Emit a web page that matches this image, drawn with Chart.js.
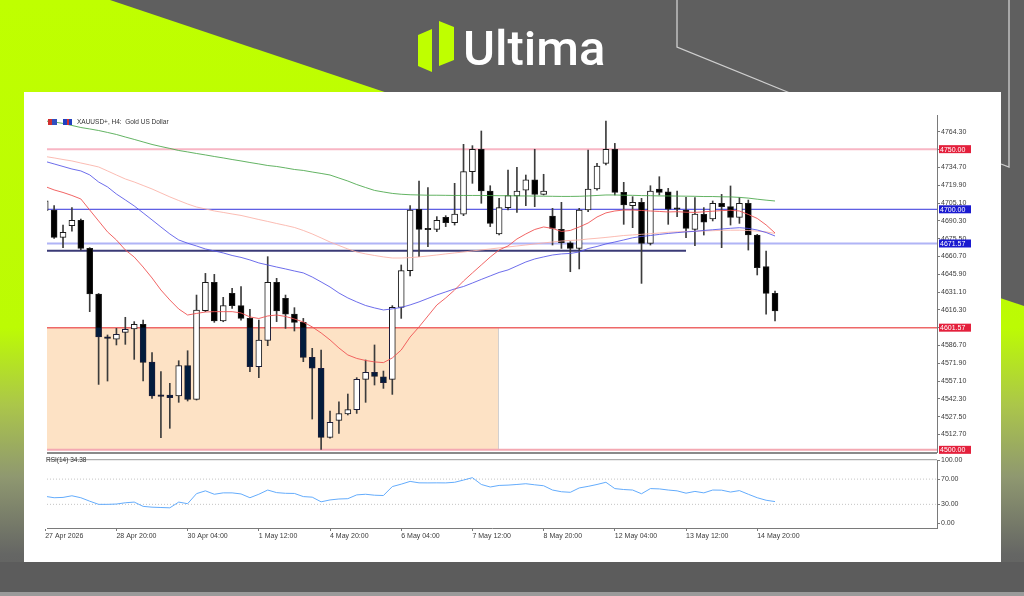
<!DOCTYPE html>
<html>
<head>
<meta charset="utf-8">
<script src="https://cdn.jsdelivr.net/npm/chart.js@4.4.1/dist/chart.umd.min.js"></script>
<style>
html, body { margin: 0; padding: 0; width: 1024px; height: 596px; overflow: hidden; background: #5f5f5f; font-family: "Liberation Sans", Arial, sans-serif; }
#bg { position: absolute; left: 0; top: 0; }
#panel { position: absolute; left: 24px; top: 92px; width: 977px; height: 470px; background: #fff; }
#priceWrap { position: absolute; left: 24px; top: 92px; width: 977px; height: 370px; }
#rsiWrap { position: absolute; left: 24px; top: 455px; width: 977px; height: 95px; }
.txt { position: absolute; font-size: 6.5px; color: #333; white-space: pre; line-height: 8px; }
.ico { position: absolute; top: 119px; width: 9px; height: 6px; }
</style>
</head>
<body>
<svg id="bg" width="1024" height="596">
  <defs>
    <linearGradient id="lime" x1="0" y1="0" x2="0" y2="596" gradientUnits="userSpaceOnUse">
      <stop offset="0" stop-color="#bfff00"/>
      <stop offset="0.55" stop-color="#bcfb04"/>
      <stop offset="0.68" stop-color="#abc64a"/>
      <stop offset="0.8" stop-color="#8f9870"/>
      <stop offset="0.93" stop-color="#656664"/>
      <stop offset="1" stop-color="#5f5f5f"/>
    </linearGradient>
  </defs>
  <rect width="1024" height="596" fill="#5f5f5f"/>
  <polygon points="0,0 110,0 1024,306 1024,596 0,596" fill="url(#lime)"/>
  <rect x="0" y="562" width="1024" height="34" fill="#5c5c5c"/>
  <rect x="0" y="592" width="1024" height="4" fill="#9a9a9a"/>
  <polyline points="677,0 677,47 790,93" fill="none" stroke="#cfcfcf" stroke-width="1.3"/>
  <polyline points="1009,0 1009,167 1001,164" fill="none" stroke="#cfcfcf" stroke-width="1.3"/>
  <polygon points="418,35 432,29 432,72 418,66" fill="#bfff00"/>
  <polygon points="439,21 454,27 454,60 439,66" fill="#bfff00"/>
  <text x="463" y="65" font-family="Roboto" font-weight="500" font-size="49" fill="#ffffff">Ultima</text>
</svg>
<div id="panel"></div>
<div id="priceWrap"><canvas id="priceChart"></canvas></div>
<div id="rsiWrap"><canvas id="rsiChart"></canvas></div>
<div class="ico" style="left:48px;background:linear-gradient(90deg,#d03030 0 45%,#3050c0 45% 100%)"></div>
<div class="ico" style="left:63px;background:linear-gradient(90deg,#2040c0 0 40%,#d03030 40% 70%,#2040c0 70%)"></div>
<div class="txt" style="left:77px;top:118px">XAUUSD+, H4:  Gold US Dollar</div>
<div class="txt" style="left:46px;top:456px">RSI(14) 34.38</div>
<script>
// Velas H4 XAUUSD+
const opens = [4699,4699.4,4676.7,4686.4,4690.8,4667.5,4629.6,4593.6,4592.1,4597.7,
  4600.5,4604.3,4572.9,4544.8,4545.6,4544.8,4570.0,4542.0,4615.7,4639.3,
  4607.1,4630.1,4619.9,4609.3,4569.1,4591.0,4639.3,4626.0,4612.9,4606.0,
  4576.9,4567.8,4510.4,4524.5,4529.8,4533.4,4558.6,4564.4,4560.8,4558.6,
  4618.5,4649.0,4700.0,4683.3,4683.3,4693.3,4688.9,4696.0,4731.3,4749.9,
  4715.2,4679.5,4701.4,4711.1,4716.0,4724.4,4712.4,4694.4,4683.3,4672.2,
  4667.5,4699.4,4716.9,4738.2,4749.9,4714.1,4703.0,4705.8,4671.7,4716.9,
  4714.6,4700.2,4699.4,4683.3,4695.8,4691.9,4705.0,4702.2,4693.3,4705.0,
  4678.6,4652.3,4630.1];
const highs = [4709,4703.0,4686.9,4701.4,4691.9,4668.1,4630.0,4595.5,4601.0,4610.2,
  4606.6,4607.9,4580.8,4565.0,4555.3,4574.1,4582.4,4628.7,4646.7,4645.9,
  4626.8,4634.3,4635.7,4616.8,4607.9,4660.6,4642.6,4628.7,4618.2,4609.3,
  4584.4,4583.0,4532.3,4540.0,4546.4,4560.0,4574.7,4587.2,4565.5,4619.9,
  4653.7,4703.0,4723.5,4718.0,4693.9,4694.7,4721.6,4754.0,4752.9,4765.1,
  4719.6,4709.1,4732.7,4734.9,4728.5,4749.9,4729.1,4700.8,4705.8,4673.1,
  4700.8,4749.3,4738.2,4773.4,4754.8,4722.4,4710.5,4709.1,4719.6,4727.1,
  4717.4,4715.2,4709.9,4709.7,4701.4,4706.9,4712.4,4719.4,4709.7,4707.7,
  4679.2,4665.3,4632.1];
const lows = [4696,4675.7,4668.1,4681.9,4666.1,4614.9,4554.4,4557.2,4587.2,4587.7,
  4575.2,4557.2,4542.8,4510.1,4517.9,4539.5,4540.6,4541.4,4614.9,4606.0,
  4606.5,4617.6,4607.9,4565.0,4560.0,4586.6,4606.6,4601.0,4598.8,4573.3,
  4525.6,4500.4,4509.6,4513.7,4529.0,4530.3,4539.5,4553.9,4551.1,4546.1,
  4609.3,4644.5,4660.6,4668.9,4681.4,4685.6,4686.9,4694.7,4721.6,4705.0,
  4685.6,4678.6,4699.4,4697.5,4703.0,4702.2,4711.9,4670.3,4667.5,4648.1,
  4650.4,4698.0,4716.0,4736.8,4711.9,4687.5,4684.7,4638.4,4670.3,4711.9,
  4687.5,4693.9,4676.4,4669.8,4678.6,4690.3,4668.1,4686.9,4688.3,4666.1,
  4645.4,4612.9,4607.1];
const closes = [4707,4676.7,4680.8,4690.8,4667.5,4629.6,4593.8,4592.7,4596.0,4600.2,
  4604.3,4572.7,4544.8,4544.5,4543.4,4570.0,4542.0,4616.3,4639.3,4607.1,
  4619.9,4619.9,4609.3,4569.1,4591.3,4639.3,4615.4,4612.9,4606.0,4576.9,
  4567.8,4510.4,4522.9,4530.1,4533.4,4558.6,4564.4,4561.1,4555.8,4618.5,
  4649.0,4699.4,4683.3,4683.0,4690.8,4688.9,4696.1,4731.3,4749.9,4715.2,
  4688.3,4701.4,4711.3,4715.2,4724.4,4712.4,4715.2,4684.2,4672.2,4667.5,
  4699.4,4716.9,4736.0,4749.9,4714.1,4703.6,4705.8,4671.7,4715.2,4714.1,
  4700.0,4700.0,4684.2,4696.1,4689.2,4705.0,4702.2,4693.3,4705.0,4678.6,
  4651.5,4630.1,4615.4];

// Médias móveis
const maRed = [4718.9,4716.1,4714.0,4711.5,4708.6,4699.4,4690.3,4681.2,4674.5,4666.2,
  4660.3,4652.0,4642.9,4632.9,4624.6,4617.1,4612.1,4613.4,4614.6,4614.9,
  4614.9,4614.9,4613.8,4610.5,4609.2,4611.3,4612.1,4610.9,4608.8,4606.3,
  4602.2,4597.2,4591.4,4584.7,4578.9,4576.0,4574.3,4573.1,4572.5,4576.4,
  4583.0,4593.8,4602.2,4611.3,4620.4,4626.3,4632.9,4640.4,4647.1,4653.7,
  4660.3,4666.2,4669.5,4675.3,4679.5,4683.2,4685.3,4684.1,4681.6,4682.4,
  4685.3,4688.6,4693.6,4697.0,4698.6,4699.4,4699.4,4699.0,4698.6,4698.2,
  4697.8,4698.0,4697.6,4697.4,4697.9,4698.4,4698.9,4699.2,4698.6,4695.7,
  4692.4,4687.0,4680.3];
const maBlue = [4739.8,4737.7,4735.6,4733.5,4731.9,4728.6,4722.7,4718.6,4712.7,4707.8,
  4702.8,4697.0,4691.2,4685.3,4679.5,4674.5,4671.8,4669.5,4667.0,4665.4,
  4663.7,4661.6,4660.0,4657.9,4655.4,4653.7,4652.0,4650.4,4648.7,4647.1,
  4643.7,4639.6,4635.4,4630.4,4626.3,4623.0,4620.0,4618.0,4616.3,4617.2,
  4618.4,4620.5,4623.0,4625.9,4628.8,4631.3,4633.8,4635.8,4638.7,4641.7,
  4644.6,4647.5,4649.6,4652.9,4656.2,4658.7,4660.4,4662.0,4662.9,4663.3,
  4664.5,4667.4,4669.1,4671.2,4672.8,4674.5,4676.3,4677.4,4678.2,4679.1,
  4679.9,4680.6,4681.2,4681.7,4682.4,4683.0,4683.6,4684.2,4684.7,4684.1,
  4682.8,4680.7,4677.8];
const maPink = [4743.9,4742.7,4741.4,4740.2,4738.5,4736.9,4735.2,4731.9,4728.5,4725.2,
  4722.7,4719.8,4716.9,4713.6,4710.3,4707.3,4704.4,4701.9,4700.3,4698.6,
  4697.4,4696.1,4694.9,4693.2,4691.5,4689.9,4688.2,4686.6,4684.9,4682.4,
  4679.5,4676.2,4672.8,4669.9,4667.0,4664.5,4662.9,4661.6,4660.4,4659.5,
  4659.5,4659.8,4660.4,4661.2,4662.0,4662.9,4663.7,4664.5,4665.4,4666.2,
  4667.0,4667.9,4668.7,4669.5,4670.3,4671.2,4672.0,4672.8,4673.6,4674.1,
  4674.5,4675.3,4675.9,4676.6,4677.4,4678.2,4678.7,4679.2,4679.7,4680.3,
  4680.9,4681.2,4681.5,4681.7,4682.0,4682.2,4682.5,4682.6,4682.6,4682.4,
  4681.8,4681.2,4679.9];
const maGreen = [4773.4,4772.6,4771.4,4769.7,4768.0,4766.8,4765.5,4763.9,4762.2,4760.1,
  4758.1,4756.0,4753.9,4752.2,4750.6,4748.9,4747.7,4746.4,4745.2,4743.9,
  4742.7,4741.4,4740.2,4738.9,4737.7,4736.4,4735.6,4734.4,4733.1,4732.3,
  4731.0,4729.8,4728.5,4726.0,4723.5,4720.6,4718.1,4715.7,4714.4,4713.2,
  4712.5,4712.1,4711.9,4711.7,4711.7,4711.6,4711.5,4711.5,4711.5,4711.5,
  4711.4,4711.3,4711.3,4711.1,4711.1,4711.0,4710.9,4710.8,4710.7,4710.7,
  4710.8,4711.1,4711.5,4711.9,4711.9,4711.7,4711.6,4711.4,4711.3,4711.1,
  4711.1,4711.0,4710.9,4710.8,4710.6,4710.6,4710.4,4710.3,4709.9,4709.3,
  4708.4,4707.6,4706.9];

// RSI(14)
const rsiValues = [42.7,40.5,41.0,43.6,40.5,35.0,30.0,30.0,30.5,32.5,
  33.6,26.8,25.5,25.0,24.5,33.6,31.0,47.0,51.4,46.0,
  48.2,48.2,46.5,40.5,46.0,52.7,48.6,47.5,47.3,42.3,
  41.4,34.0,37.0,38.5,39.0,45.0,46.0,44.5,44.0,58.2,
  62.0,66.4,64.1,64.0,64.1,64.0,65.0,68.5,72.3,61.5,
  57.5,60.0,60.5,61.5,62.7,61.0,59.5,52.7,50.0,49.1,
  56.0,58.5,61.5,65.0,55.0,53.5,52.7,46.8,55.0,54.5,
  52.7,51.4,47.7,50.5,48.2,52.7,52.5,49.5,51.8,46.0,
  40.5,36.5,34.38];
const rsiLevels = [70, 30];

// Eixos
const timeLabels = ['27 Apr 2026', '28 Apr 20:00', '30 Apr 04:00', '1 May 12:00', '4 May 20:00',
  '6 May 04:00', '7 May 12:00', '8 May 20:00', '12 May 04:00', '13 May 12:00', '14 May 20:00'];
const timeTickBars = [0, 8, 16, 24, 32, 40, 48, 56, 64, 72, 80];
const priceTicks = [4764.30, 4749.50, 4734.70, 4719.90, 4705.10, 4690.30, 4675.50, 4660.70, 4645.90,
  4631.10, 4616.30, 4601.50, 4586.70, 4571.90, 4557.10, 4542.30, 4527.50, 4512.70];
const rsiTicks = [0, 30, 70, 100];

// Níveis e zona
const levels = [4750.00, 4700.00, 4671.57, 4601.57, 4500.00];
const trendLevel = 4665.5, trendEndBar = 72;
const zoneTop = 4601.57, zoneBottom = 4500.00, zoneEndBar = 50.9;

const levelStyle = [
  { line: 'rgb(248,182,196)', width: 2, box: '#e4203c' },
  { line: 'rgb(52,52,220)', width: 1, box: '#1a1ad0' },
  { line: 'rgb(176,180,246)', width: 2, box: '#1a1ad0' },
  { line: 'rgb(238,104,104)', width: 1.5, box: '#e4203c' },
  { line: 'rgb(244,168,178)', width: 2, box: '#e4203c' }
];

const xMin = 0.2, xMax = 100.2;
const bars = opens.map((_, i) => i);
Chart.defaults.font.family = 'Liberation Sans';
Chart.defaults.animation = false;

const fixWidth = s => { s.width = 64; };
const flat = (v, a, b) => [{ x: a, y: v }, { x: b, y: v }];
const maSet = (vals, color, order) => ({
    type: 'line', data: bars.map(i => ({ x: i, y: vals[i] })),
    borderColor: color, borderWidth: 1, pointRadius: 0, fill: false, order: order
});

const zonePlugin = {
    id: 'zone',
    beforeDatasetsDraw(chart) {
        const { ctx, chartArea, scales: { x, y } } = chart;
        const r = x.getPixelForValue(zoneEndBar);
        const t = y.getPixelForValue(zoneTop), b = y.getPixelForValue(zoneBottom);
        ctx.save();
        ctx.fillStyle = '#fde2c5';
        ctx.fillRect(chartArea.left, t, r - chartArea.left, b - t);
        ctx.restore();
    },
    afterDatasetsDraw(chart) {
        // barras pretas ficam azul-marinho dentro da zona
        const { ctx, chartArea, scales: { x, y } } = chart;
        const r = x.getPixelForValue(zoneEndBar);
        const t = y.getPixelForValue(zoneTop), b = y.getPixelForValue(zoneBottom);
        ctx.save();
        ctx.globalCompositeOperation = 'lighten';
        ctx.fillStyle = '#021c3c';
        ctx.fillRect(chartArea.left, t, r - chartArea.left, b - t);
        ctx.restore();
    },
    afterDraw(chart) {
        const { ctx, chartArea, scales: { y } } = chart;
        ctx.save();
        ctx.fillStyle = '#8a8a8a';
        ctx.fillRect(chartArea.left, chartArea.bottom, chartArea.right - chartArea.left, 2);
        ctx.font = '7px "Liberation Sans"';
        ctx.textBaseline = 'middle';
        levels.forEach((lv, k) => {
            const py = y.getPixelForValue(lv);
            ctx.fillStyle = levelStyle[k].box;
            ctx.fillRect(chartArea.right + 2, py - 4, 32, 8);
            ctx.fillStyle = '#fff';
            ctx.fillText(lv.toFixed(2), chartArea.right + 3, py + 0.5);
        });
        ctx.restore();
    }
};

new Chart(document.getElementById('priceChart'), {
    type: 'bar',
    data: {
        datasets: [
            maSet(maRed, 'rgba(240,84,84,0.9)', 1),
            maSet(maBlue, 'rgba(84,84,232,0.85)', 2),
            maSet(maPink, 'rgba(250,176,166,0.85)', 3),
            maSet(maGreen, 'rgba(72,166,72,0.85)', 4),
            {
                type: 'bar', data: bars.map(i => ({ x: i, y: [opens[i], closes[i]] })),
                backgroundColor: c => closes[c.dataIndex] >= opens[c.dataIndex] ? '#ffffff' : '#000000',
                borderColor: '#1a1a1a', borderWidth: 1, borderSkipped: false,
                barThickness: 6, minBarLength: 1.5, grouped: false, order: 10
            },
            {
                type: 'bar', data: bars.map(i => ({ x: i, y: [lows[i], highs[i]] })),
                backgroundColor: '#3c3c3c', barThickness: 1, grouped: false, order: 20
            },
            ...levels.map((lv, k) => ({
                type: 'line', data: flat(lv, xMin, xMax), borderColor: levelStyle[k].line,
                borderWidth: levelStyle[k].width, pointRadius: 0, fill: false, order: 30
            })),
            {
                type: 'line', data: flat(trendLevel, xMin, trendEndBar), borderColor: 'rgb(58,58,118)',
                borderWidth: 2, pointRadius: 0, fill: false, order: 31
            }
        ]
    },
    options: {
        responsive: true, maintainAspectRatio: false, devicePixelRatio: 1, events: [],
        layout: { padding: { left: 23, top: 23, right: 0, bottom: 10 } },
        plugins: { legend: { display: false }, tooltip: { enabled: false } },
        scales: {
            x: { type: 'linear', min: xMin, max: xMax, display: false, offset: false, grid: { offset: false } },
            y: {
                type: 'linear', position: 'right', min: 4498.2, max: 4778.4,
                afterBuildTicks: s => { s.ticks = priceTicks.map(v => ({ value: v })); },
                afterFit: fixWidth,
                ticks: { font: { size: 7 }, color: '#3a3a3a', padding: 1, autoSkip: false, callback: v => v.toFixed(2) },
                grid: { drawOnChartArea: false, tickLength: 3, color: '#7a7a7a' },
                border: { color: '#7a7a7a' }
            }
        }
    },
    plugins: [zonePlugin]
});

new Chart(document.getElementById('rsiChart'), {
    type: 'line',
    data: {
        datasets: [
            {
                data: bars.map(i => ({ x: i, y: rsiValues[i] })), borderColor: 'rgb(100,172,252)',
                borderWidth: 1, pointRadius: 0, fill: false, order: 1
            },
            ...rsiLevels.map(lv => ({
                data: flat(lv, xMin, xMax), borderColor: '#c4c4c4', borderWidth: 1,
                borderDash: [1, 2], pointRadius: 0, fill: false, order: 2
            }))
        ]
    },
    options: {
        responsive: true, maintainAspectRatio: false, devicePixelRatio: 1, events: [],
        layout: { padding: { left: 23, top: 1, right: 0, bottom: 0 } },
        plugins: { legend: { display: false }, tooltip: { enabled: false } },
        scales: {
            x: {
                type: 'linear', min: xMin, max: xMax, offset: false,
                afterBuildTicks: s => { s.ticks = timeTickBars.map(v => ({ value: v })); },
                afterFit: s => { s.height = 22; },
                ticks: {
                    font: { size: 7 }, color: '#3a3a3a', align: 'start', autoSkip: false,
                    maxRotation: 0, padding: 1, callback: (v, idx) => timeLabels[idx]
                },
                grid: { drawOnChartArea: false, tickLength: 3, color: '#7a7a7a' },
                border: { color: '#7a7a7a' }
            },
            y: {
                type: 'linear', position: 'right', min: -7.5, max: 100,
                afterBuildTicks: s => { s.ticks = rsiTicks.map(v => ({ value: v })); },
                afterFit: fixWidth,
                ticks: { font: { size: 7 }, color: '#3a3a3a', padding: 1, autoSkip: false, callback: v => v.toFixed(2) },
                grid: { drawOnChartArea: false, tickLength: 3, color: '#7a7a7a' },
                border: { color: '#7a7a7a' }
            }
        }
    },
    plugins: [{
        id: 'topRule',
        afterDraw(chart) {
            const { ctx, chartArea } = chart;
            ctx.save();
            ctx.fillStyle = '#9a9a9a';
            ctx.fillRect(chartArea.left, chartArea.top - 1, chartArea.right - chartArea.left, 1);
            ctx.restore();
        }
    }]
});
</script>
</body>
</html>
